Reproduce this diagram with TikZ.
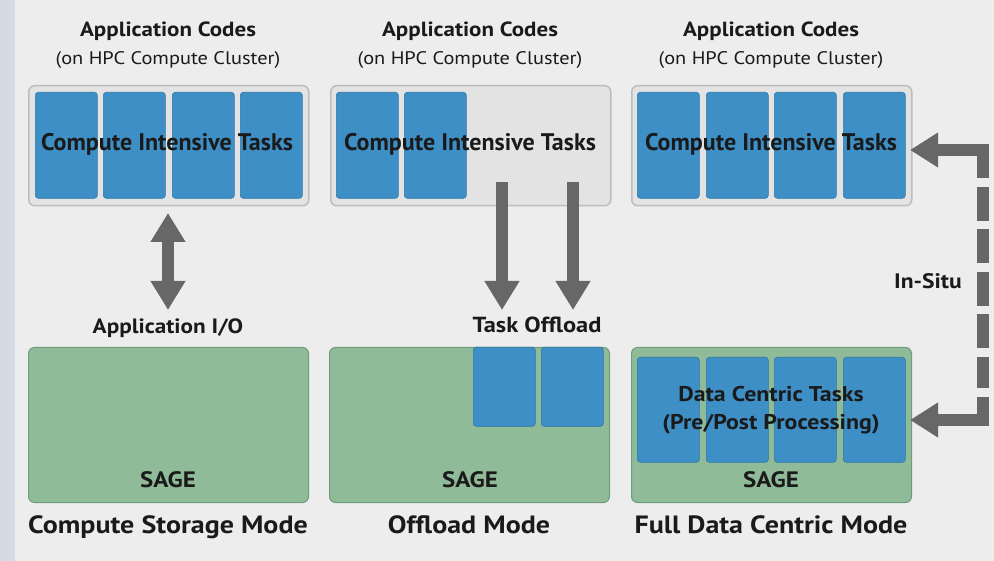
\documentclass[tikz,border=0pt]{standalone}
\usepackage{fontspec}
\setmainfont{PT Sans}
\newfontfamily\widesf[FakeStretch=1.12]{PT Sans}
\usetikzlibrary{arrows.meta}
\definecolor{bgc}{HTML}{EDEDED}
\definecolor{stripc}{HTML}{D6DBE3}
\definecolor{contfill}{HTML}{E3E3E3}
\definecolor{contdraw}{HTML}{BDBDBD}
\definecolor{taskblue}{HTML}{3D8FC6}
\definecolor{taskedge}{HTML}{2E77A8}
\definecolor{sagegreen}{HTML}{8FBB99}
\definecolor{sageedge}{HTML}{6F9C7C}
\definecolor{arrowgrey}{HTML}{676767}
\definecolor{txt}{HTML}{1A1A1A}
\tikzset{
  container/.style={anchor=north west, rounded corners=6pt, fill=contfill, draw=contdraw, line width=1.5pt, minimum width=280pt, minimum height=120pt, inner sep=0pt},
  taskbox/.style={anchor=north west, rounded corners=3pt, fill=taskblue, draw=taskedge, line width=0.6pt, minimum width=62pt, minimum height=106pt, inner sep=0pt},
  sagebox/.style={anchor=north west, rounded corners=6pt, fill=sagegreen, draw=sageedge, line width=1pt, minimum width=280pt, minimum height=155pt, inner sep=0pt},
  lbl/.style={anchor=base, inner sep=0pt, text=txt, font=\widesf\bfseries\fontsize{#1}{#1}\selectfont},
  lbl/.default=20,
  citlbl/.style={anchor=base, inner sep=0pt, text=txt, font=\bfseries\fontsize{24}{24}\selectfont},
  sublbl/.style={anchor=base, inner sep=0pt, text=txt, font=\widesf\fontsize{18.2}{18.2}\selectfont},
  bigarrow/.style={draw=arrowgrey, line width=11.5pt, arrows={-Triangle[width=33pt,length=29pt]}},
  bigarrowboth/.style={draw=arrowgrey, line width=11.5pt, arrows={Triangle[width=33pt,length=29pt]-Triangle[width=33pt,length=29pt]}},
  shaft/.style={draw=arrowgrey, line width=12pt, line join=miter},
}
\begin{document}
\begin{tikzpicture}[x=1pt,y=-1pt]
\useasboundingbox (0,0) rectangle (994,561);
\fill[bgc] (0,0) rectangle (994,561);
\fill[stripc] (0,0) rectangle (15,561);

% titles
\foreach \cx/\nm in {168/1,470/2,771/3}{
  \node[lbl=20.5] (title\nm) at (\cx,37) {Application Codes};
  \node[sublbl] (sub\nm) at (\cx,65) {(on HPC Compute Cluster)};
}

% top containers
\node[container] (c1) at (28,85) {};
\node[container] (c2) at (330,85) {};
\node[container] (c3) at (631,85) {};

% top tasks
\node[taskbox] (t11) at (35,92) {};
\node[taskbox] (t12) at (103,92) {};
\node[taskbox] (t13) at (172,92) {};
\node[taskbox] (t14) at (240,92) {};
\node[taskbox] (t21) at (336,92) {};
\node[taskbox] (t22) at (404,92) {};
\node[taskbox] (t31) at (637,92) {};
\node[taskbox] (t32) at (706,92) {};
\node[taskbox] (t33) at (774,92) {};
\node[taskbox] (t34) at (843,92) {};

\node[citlbl] (cit1) at (167,151) {Compute Intensive Tasks};
\node[citlbl] (cit2) at (470,151) {Compute Intensive Tasks};
\node[citlbl] (cit3) at (771,151) {Compute Intensive Tasks};

% bottom SAGE boxes
\node[sagebox] (s1) at (28,347) {};
\node[sagebox] (s2) at (329,347) {};
\node[sagebox] (s3) at (631,347) {};

\node[taskbox, minimum height=79pt] (o1) at (473,347) {};
\node[taskbox, minimum height=79pt] (o2) at (541,347) {};

\node[taskbox, minimum height=105pt] (d1) at (637,357) {};
\node[taskbox, minimum height=105pt] (d2) at (706,357) {};
\node[taskbox, minimum height=105pt] (d3) at (774,357) {};
\node[taskbox, minimum height=105pt] (d4) at (843,357) {};

\node[lbl=21.3] (dct) at (771,402) {Data Centric Tasks};
\node[lbl=21.3] (ppp) at (771,430) {(Pre/Post Processing)};

\node[lbl=22.3] (sage1) at (168,487) {SAGE};
\node[lbl=22.3] (sage2) at (470,487) {SAGE};
\node[lbl=22.3] (sage3) at (771,487) {SAGE};

\node[lbl=25] (mode1) at (168,533) {Compute Storage Mode};
\node[lbl=25] (mode2) at (469,533) {Offload Mode};
\node[lbl=25] (mode3) at (771,533) {Full Data Centric Mode};

% connector labels
\node[lbl=20.7] (iolab) at (168,334) {Application I/O};
\node[lbl=21.8] (offlab) at (537,333) {Task Offload};
\node[lbl=21] (insitu) at (928,289) {In-Situ};

% application I/O double arrow
\coordinate (ioA) at (168,213);
\coordinate (ioB) at (168,310);
\draw[bigarrowboth] (ioA) -- (ioB);

% task offload arrows
\coordinate (offA1) at (502,182);
\coordinate (offB1) at (502,310);
\coordinate (offA2) at (573,182);
\coordinate (offB2) at (573,310);
\draw[bigarrow] (offA1) -- (offB1);
\draw[bigarrow] (offA2) -- (offB2);

% in-situ dashed connector
\coordinate (isTop) at (983,150);
\coordinate (isBot) at (983,420);
\coordinate (isTopTip) at (910,150);
\coordinate (isBotTip) at (910,420);
\coordinate (isTopEnd) at (983,178);
\coordinate (isBotEnd) at (983,397);
\draw[shaft, arrows={-Triangle[width=33pt,length=28pt]}] (isTopEnd) -- (isTop) -- (isTopTip);
\draw[shaft, arrows={-Triangle[width=33pt,length=28pt]}] (isBotEnd) -- (isBot) -- (isBotTip);
\draw[draw=arrowgrey, line width=12pt, dash pattern=on 34pt off 8.6pt] ([yshift=-8.6pt]isTopEnd) -- ([yshift=8.6pt]isBotEnd);
\end{tikzpicture}
\end{document}
